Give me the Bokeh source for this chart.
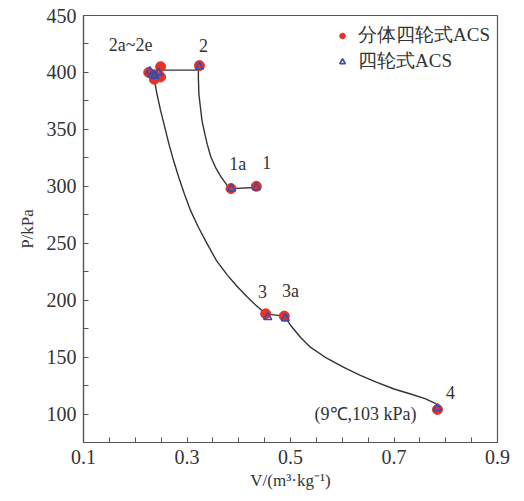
from bokeh.plotting import figure
from bokeh.models import Range1d, FixedTicker, Label, Legend, LegendItem
from bokeh.embed import file_html
from bokeh.resources import INLINE

# ---- data ----
split_v = [0.226, 0.236, 0.249, 0.249, 0.237, 0.324, 0.385, 0.434, 0.452, 0.488, 0.784]
split_p = [400, 398, 405, 396, 394, 406, 298, 300, 188, 186, 104]

four_v = [0.228, 0.233, 0.238, 0.245, 0.324, 0.386, 0.434, 0.456, 0.490, 0.784]
four_p = [401, 398, 397, 400, 405, 298, 299, 185, 184, 105]

top_iso_v = [0.245, 0.322]
top_iso_p = [402, 402]

curve_2_1a_v = [0.322, 0.322, 0.323, 0.326, 0.329, 0.334, 0.339, 0.346, 0.355, 0.366, 0.378, 0.385]
curve_2_1a_p = [402, 395, 381, 369, 357.7, 347, 337, 326, 316.7, 308, 300.6, 298]

iso_1_v = [0.385, 0.434]
iso_1_p = [298, 299]

curve_2e_3_v = [0.236, 0.242, 0.249, 0.257, 0.265, 0.274, 0.284, 0.295, 0.307, 0.322,
                0.339, 0.357, 0.378, 0.397, 0.416, 0.432, 0.452]
curve_2e_3_p = [396, 381, 366.5, 352, 337.3, 322.6, 308, 293.3, 278.6, 264,
                249.4, 234.7, 222, 212, 203, 196, 188]

iso_3_v = [0.452, 0.488]
iso_3_p = [188, 186]

curve_3a_4_v = [0.488, 0.500, 0.520, 0.539, 0.570, 0.603, 0.635, 0.667, 0.700, 0.732, 0.760, 0.782]
curve_3a_4_p = [186, 178, 167, 158.5, 149, 141, 134, 127.8, 122, 117.6, 113.5, 109]

x_ticks = [0.1, 0.15, 0.2, 0.25, 0.3, 0.35, 0.4, 0.45, 0.5, 0.55, 0.6, 0.65, 0.7, 0.75, 0.8, 0.85, 0.9]
x_tick_labels = {0.1: "0.1", 0.3: "0.3", 0.5: "0.5", 0.7: "0.7", 0.9: "0.9"}
y_ticks = [75, 100, 125, 150, 175, 200, 225, 250, 275, 300, 325, 350, 375, 400, 425, 450]
y_tick_labels = {100: "100", 150: "150", 200: "200", 250: "250", 300: "300", 350: "350", 400: "400", 450: "450"}

point_labels = ["2a~2e", "2", "1a", "1", "3", "3a", "4", "(9℃,103 kPa)"]
label_v = [0.191, 0.332, 0.398, 0.454, 0.446, 0.500, 0.809, 0.645]
label_p = [424, 424, 320, 321, 208, 208, 119, 100]

SERIF = "Liberation Serif"
RED = "#e5322b"
BLUE = "#3d4aa6"
LINE = "#333333"

p = figure(width=524, height=501, output_backend="svg", toolbar_location=None,
           x_range=Range1d(0.1, 0.9), y_range=Range1d(75, 450),
           frame_width=414, frame_height=427,
           min_border_left=83, min_border_right=27, min_border_top=15, min_border_bottom=59)
p.background_fill_color = "white"
p.border_fill_color = "white"
p.outline_line_color = "#555555"
p.outline_line_width = 1.2
p.grid.visible = False

p.xaxis.axis_line_color = "#555555"
p.yaxis.axis_line_color = "#555555"
p.xaxis.axis_line_width = 1.2
p.yaxis.axis_line_width = 1.2
p.xaxis.major_tick_in = 5
p.yaxis.major_tick_in = 5
p.xaxis.major_tick_out = 0
p.yaxis.major_tick_out = 0
p.xaxis.minor_tick_in = 0
p.yaxis.minor_tick_in = 0
p.xaxis.minor_tick_out = 0
p.yaxis.minor_tick_out = 0
p.xaxis.major_tick_line_color = "#555555"
p.yaxis.major_tick_line_color = "#555555"
p.xaxis.major_label_text_font = SERIF
p.yaxis.major_label_text_font = SERIF
p.xaxis.major_label_text_font_size = "20px"
p.yaxis.major_label_text_font_size = "20px"
p.xaxis.major_label_text_color = "#333333"
p.yaxis.major_label_text_color = "#333333"
p.xaxis.axis_label_text_font = SERIF
p.yaxis.axis_label_text_font = SERIF
p.xaxis.axis_label_text_font_size = "17px"
p.yaxis.axis_label_text_font_size = "17px"
p.xaxis.axis_label_text_font_style = "normal"
p.yaxis.axis_label_text_font_style = "normal"
p.xaxis.axis_label_text_color = "#333333"
p.yaxis.axis_label_text_color = "#333333"

p.xaxis.ticker = FixedTicker(ticks=x_ticks)
p.xaxis.major_label_overrides = {t: x_tick_labels.get(t, "") for t in x_ticks}
p.yaxis.ticker = FixedTicker(ticks=y_ticks)
p.yaxis.major_label_overrides = {t: y_tick_labels.get(t, "") for t in y_ticks}
p.xaxis.axis_label = "V/(m³·kg⁻¹)"
p.yaxis.axis_label = "P/kPa"
p.xaxis.major_label_standoff = 7
p.yaxis.major_label_standoff = 7
p.xaxis.axis_label_standoff = 4
p.yaxis.axis_label_standoff = 7

for vs, ps in [(top_iso_v, top_iso_p), (curve_2_1a_v, curve_2_1a_p), (iso_1_v, iso_1_p),
               (curve_2e_3_v, curve_2e_3_p), (iso_3_v, iso_3_p), (curve_3a_4_v, curve_3a_4_p)]:
    p.line(vs, ps, line_color=LINE, line_width=1.4, line_join="round")

r_split = p.scatter(split_v, split_p, marker="circle", size=10, fill_color=RED, line_color=RED)
r_four = p.scatter(four_v, four_p, marker="triangle", size=8, fill_color=None,
                   line_color=BLUE, line_width=1.6)

for txt, v, pp in zip(point_labels, label_v, label_p):
    p.add_layout(Label(x=v, y=pp, text=txt, text_font=SERIF, text_font_size="18px",
                       text_color="#333333", text_align="center", text_baseline="middle"))

legend = Legend(items=[LegendItem(label="分体四轮式ACS", renderers=[r_split]),
                       LegendItem(label="四轮式ACS", renderers=[r_four])],
                location="top_right", border_line_color=None, background_fill_alpha=0,
                label_text_font=SERIF, label_text_font_size="19px", label_text_color="#333333",
                margin=7, padding=0, spacing=-4, label_height=19, glyph_height=19, glyph_width=14,
                label_standoff=9)
p.add_layout(legend)

open("out.html", "w").write(file_html(p, INLINE))
